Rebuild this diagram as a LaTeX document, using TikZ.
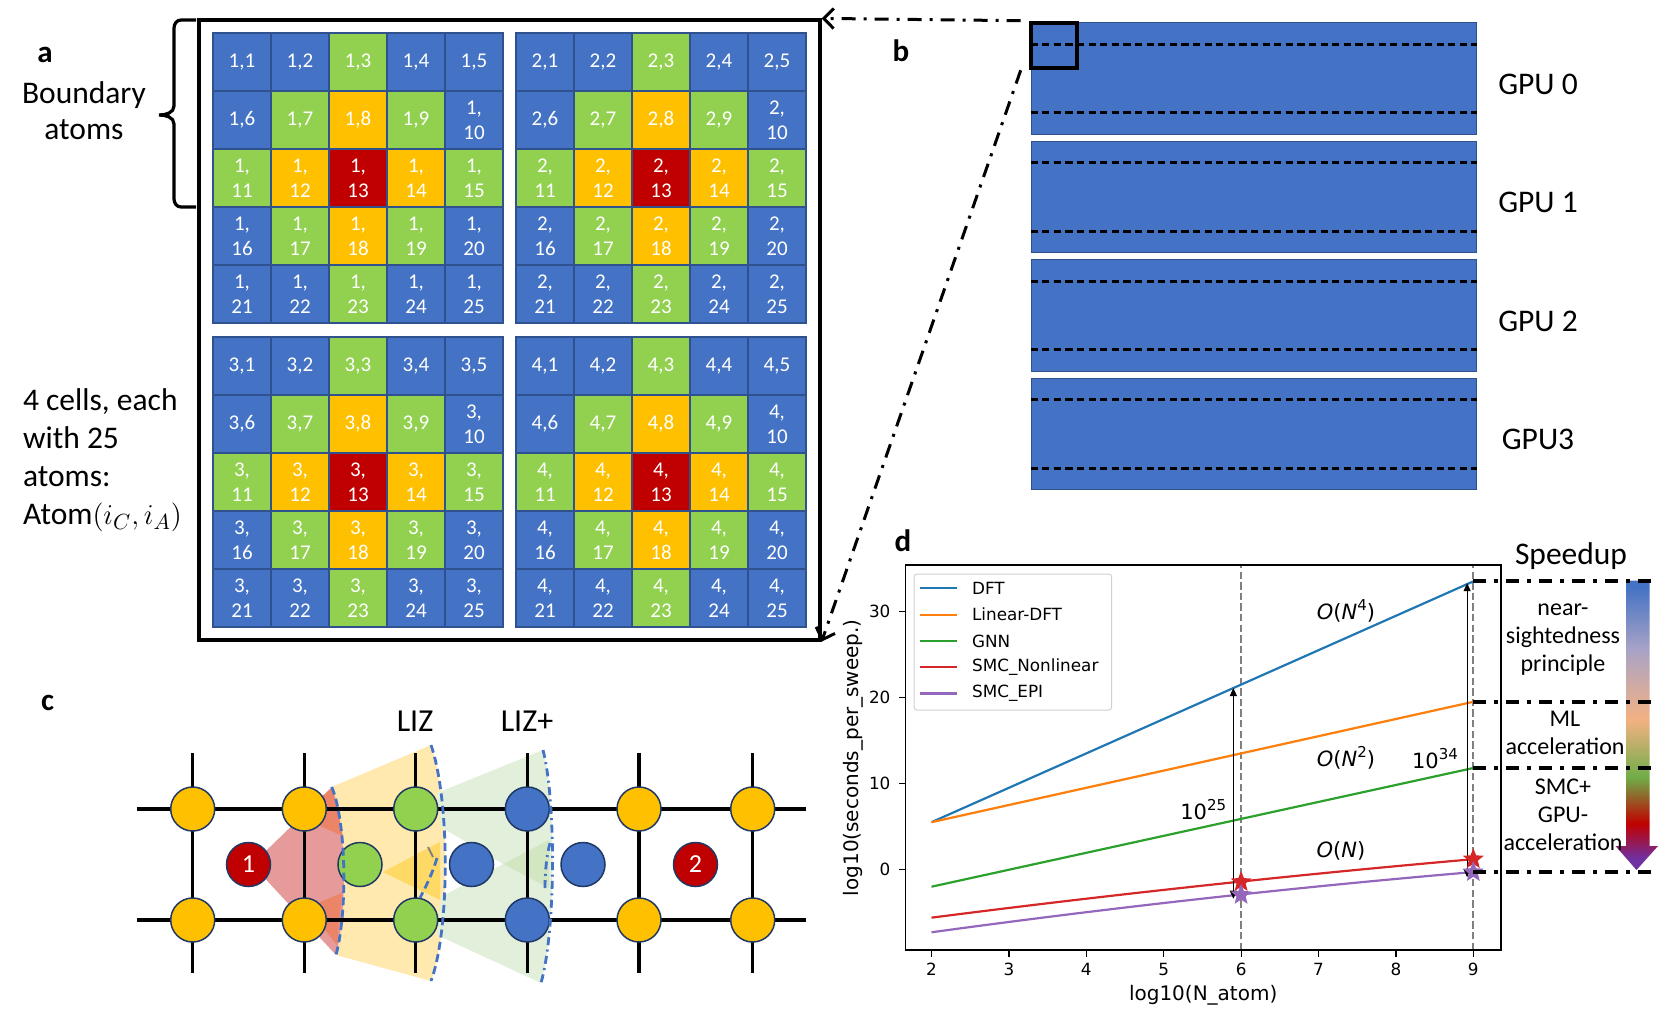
\documentclass[tikz,border=0pt]{standalone}
\usepackage{fontspec}
\setmainfont{Carlito}
\newfontfamily\pf{DejaVu Sans}
\usetikzlibrary{arrows.meta,shapes.geometric}
\definecolor{cellB}{HTML}{4472C4}
\definecolor{cellG}{HTML}{92D050}
\definecolor{cellO}{HTML}{FFC000}
\definecolor{cellR}{HTML}{C00000}
\definecolor{cellline}{HTML}{2F528F}
\definecolor{circline}{HTML}{1F3864}
\definecolor{mblue}{HTML}{1F77B4}
\definecolor{morange}{HTML}{FF7F0E}
\definecolor{mgreen}{HTML}{2CA02C}
\definecolor{mred}{HTML}{D62728}
\definecolor{mpurple}{HTML}{9467BD}
\definecolor{spPurple}{HTML}{7030A0}
\definecolor{spRed}{HTML}{C00000}
\definecolor{spGreen}{HTML}{70AD47}
\definecolor{spPeach}{HTML}{F4B183}
\definecolor{spMauve}{HTML}{A9A3C6}
\definecolor{spBlue}{HTML}{4472C4}
\definecolor{zRed}{HTML}{E69A9A}
\definecolor{zRedDark}{HTML}{EC8468}
\definecolor{zYel}{HTML}{FFE9AE}
\definecolor{zYelDark}{HTML}{FFD966}
\definecolor{zGrn}{HTML}{E2EFDA}
\definecolor{zGrnDark}{HTML}{D2E6C2}
\definecolor{legline}{HTML}{D0D0D0}
\pgfdeclareverticalshading{speedgrad}{100bp}{color(0bp)=(spPurple); color(27bp)=(spPurple); color(33bp)=(spRed); color(41bp)=(spGreen); color(51bp)=(spPeach); color(63bp)=(spMauve); color(74bp)=(spBlue); color(100bp)=(spBlue)}
\newcommand\mysup[1]{\raisebox{0.8ex}{\fontsize{7.5}{8}\selectfont #1}}
\tikzset{
  cellbox/.style={draw=cellline, line width=0.7pt, minimum width=29pt, minimum height=29pt, inner sep=0pt, text=white, align=center, font=\fontsize{10.5}{12.5}\selectfont},
  lbl/.style={font=\fontsize{15.75}{19}\selectfont},
  panel/.style={font=\bfseries\fontsize{15.5}{18}\selectfont},
  gpubox/.style={fill=cellB, draw=cellline, line width=0.5pt, minimum width=222.5pt, minimum height=55.75pt, inner sep=0pt},
  gpudash/.style={line width=1.3pt, dash pattern=on 3.6pt off 2.2pt},
  dashdotline/.style={line width=1.5pt, dash pattern=on 7pt off 4pt on 1.5pt off 4pt},
  sdash/.style={line width=2pt, dash pattern=on 6.5pt off 4pt on 2pt off 4pt},
  atom/.style={circle, draw=circline, line width=0.75pt, minimum size=22pt, inner sep=0pt},
  latt/.style={line width=1.6pt},
  arcd/.style={draw=cellB, line width=1.4pt, dash pattern=on 4pt off 2.2pt},
  arcdd/.style={draw=cellB, line width=1.4pt, dash pattern=on 4pt off 2.2pt on 1pt off 2.2pt},
  pl/.style={line width=1.1pt},
  vgrid/.style={draw=gray, line width=1.1pt, dash pattern=on 3.7pt off 1.6pt},
  tk/.style={line width=0.6pt},
  ticklbl/.style={font=\pf\fontsize{8.4}{10}\selectfont},
  annot/.style={font=\pf\fontsize{10.5}{12}\selectfont},
  annarr/.style={line width=0.5pt, {Triangle[length=4pt,width=3.5pt]}-{Triangle[length=4pt,width=3.5pt]}},
  smalllbl/.style={font=\fontsize{12}{14}\selectfont, align=center},
  mstar/.style={star, star points=5, star point ratio=2.3, minimum size=11pt, inner sep=0pt},
}
\begin{document}
\begin{tikzpicture}[x=0.5pt,y=-0.5pt]
\useasboundingbox (0,0) rectangle (1661,1011);

% ---------------- panel a ----------------
\foreach \c/\cx/\cy in {1/213/33,2/516/33,3/213/337,4/516/337}{
  \foreach \k [count=\n] in {B,B,G,B,B,B,G,O,G,B,G,O,R,O,G,B,G,O,G,B,B,B,G,B,B}{
    \pgfmathtruncatemacro{\cl}{mod(\n-1,5)}
    \pgfmathtruncatemacro{\rw}{(\n-1)/5}
    \ifnum\n<10
      \node[cellbox, fill=cell\k] (a\c-\n) at ({\cx+29+58*\cl},{\cy+29+58*\rw}) {\c,\n};
    \else
      \node[cellbox, fill=cell\k] (a\c-\n) at ({\cx+29+58*\cl},{\cy+29+58*\rw}) {\c,\\\n};
    \fi
  }
}
\node[draw, line width=1.6pt, minimum width=310.5pt, minimum height=310pt, inner sep=0pt] (frameA) at (509.5,330) {};
\draw[line width=1.6pt] (196,20) -- (181,20) to[out=180,in=90] (174,28) -- (174,106) to[out=-90,in=0] (159,115) to[out=0,in=90] (174,124) -- (174,199) to[out=-90,in=180] (181,207) -- (196,207);
\node[panel] (la) at (45,55) {a};
\node[lbl, align=center] (lbound) at (84,111) {Boundary\\[-1pt]atoms};
\node[lbl, align=left, anchor=west, font=\fontsize{15.75}{19}\selectfont] (lcells) at (16,460) {4 cells, each\\with 25\\atoms:\\Atom$(i_C,i_A)$};

% ---------------- panel b ----------------
\node[panel] (lb) at (901,51) {b};
\foreach \i/\t in {0/GPU 0,1/GPU 1,2/GPU 2,3/GPU3}{
  \node[gpubox] (gpu\i) at (1253.5,{78.5+118.5*\i}) {};
  \draw[gpudash] ([yshift=-11pt]gpu\i.north west) -- ([yshift=-11pt]gpu\i.north east);
  \draw[gpudash] ([yshift=11pt]gpu\i.south west) -- ([yshift=11pt]gpu\i.south east);
  \node[lbl] (gl\i) at (1538,{84+118.5*\i}) {\t};
}
\node[draw, line width=2pt, minimum width=23pt, minimum height=22.8pt, inner sep=0pt] (zsq) at (1053.7,45.5) {};
\draw[dashdotline, -{Straight Barb[length=5pt,width=10pt]}] ([xshift=-4pt]zsq.north west) -- (frameA.north east);
\draw[dashdotline, -{Straight Barb[length=5pt,width=10pt]}] ([xshift=-4pt]zsq.south west) -- (frameA.south east);

% ---------------- panel c ----------------
\node[panel] (lc) at (47.6,703) {c};
\fill[zYel] (331.7,787) -- (431,745) .. controls (450,800) and (450,930) .. (431,981) -- (336,955) .. controls (348,910) and (346,820) .. (331.7,787) -- cycle;
\fill[zYelDark] (383,872) -- (440,842) -- (440,900) -- cycle;
\fill[zGrn] (437,793) -- (543,750) .. controls (556,800) and (556,930) .. (541,983) -- (437,935) -- (441,897) -- (503,864) -- (441,827) -- cycle;
\fill[zGrnDark] (503,864) -- (549,840) -- (549,888) -- cycle;
\fill[zRed] (252,864.5) -- (331.7,787) .. controls (346,820) and (348,910) .. (336,955) -- cycle;
\fill[zRedDark] (322,797) -- (332,788) -- (343,836) -- (320,826) -- cycle;
\fill[zRedDark] (320,902) -- (342,893) -- (337,945) -- (325,930) -- cycle;
% lattice
\coordinate (hl1) at (137,809); \coordinate (hr1) at (806,809);
\coordinate (hl2) at (137,920); \coordinate (hr2) at (806,920);
\draw[latt] (hl1) -- (hr1);
\draw[latt] (hl2) -- (hr2);
\foreach \x [count=\j] in {192.7,304.3,415.7,527.3,639,752.7}{
  \coordinate (vt\j) at (\x,753); \coordinate (vb\j) at (\x,973);
  \draw[latt] (vt\j) -- (vb\j);
}
\foreach \x/\col [count=\j] in {192.7/cellO,304.3/cellO,415.7/cellG,527.3/cellB,639/cellO,752.7/cellO}{
  \node[atom, fill=\col] (ct\j) at (\x,809) {};
  \node[atom, fill=\col] (cb\j) at (\x,920) {};
}
\node[atom, fill=cellR, text=white, font=\fontsize{13}{14}\selectfont] (cm1) at (248.5,864.5) {1};
\node[atom, fill=cellG] (cm2) at (360,864.5) {};
\node[atom, fill=cellB] (cm3) at (471.5,864.5) {};
\node[atom, fill=cellB] (cm4) at (583,864.5) {};
\node[atom, fill=cellR, text=white, font=\fontsize{13}{14}\selectfont] (cm5) at (695.5,864.5) {2};
\draw[arcd] (331.7,787) .. controls (346,820) and (348,910) .. (336,955);
\draw[arcd] (431,745) .. controls (450,800) and (450,930) .. (431,981);
\draw[arcd] (437,858) .. controls (432,875) and (425,888) .. (420,898);
\draw[gray, line width=1pt] (428,847) -- (433,857);
\draw[arcdd] (543,750) .. controls (556,800) and (556,930) .. (541,983);
\draw[arcdd] (550,843) .. controls (546,858) and (545,874) .. (545,890);
\node[lbl, font=\fontsize{16}{19}\selectfont] (liz) at (415,721) {LIZ};
\node[lbl, font=\fontsize{16}{19}\selectfont] (lizp) at (527,721) {LIZ+};

% ---------------- panel d ----------------
\node[panel] (ld) at (903,541) {d};
\begin{scope}[shift={(776.7,869.5)},x=38.7pt,y=4.3pt]
  \draw[vgrid] (6,-9.35) -- (6,35.45);
  \draw[vgrid] (9,-9.35) -- (9,35.45);
  \draw[pl,mblue] (2,5.5) -- (9,33.5);
  \draw[pl,morange] (2,5.5) -- (9,19.5);
  \draw[pl,mgreen] (2,-2.0) -- (9,11.8);
  \draw[pl,mred] plot[domain=2:9,samples=30,smooth] (\x,{-8.014+1.2595*\x-0.0262*\x*\x});
  \draw[pl,mpurple] plot[domain=2:9,samples=30,smooth] (\x,{-9.9+1.3667*\x-0.0333*\x*\x});
  \draw[line width=0.9pt] (1.665,-9.35) rectangle (9.36,35.45);
  \foreach \t in {0,10,20,30}{
    \draw[tk] (1.665,\t) -- (1.575,\t);
    \node[ticklbl, anchor=east] (yt\t) at (1.56,\t) {\t};
  }
  \foreach \t in {2,...,9}{
    \draw[tk] (\t,-9.35) -- (\t,-10.16);
    \node[ticklbl, anchor=north] (xt\t) at (\t,-10.1) {\t};
  }
  \node[font=\pf\fontsize{10}{12}\selectfont] (xlab) at (5.51,-14.6) {log10(N\_atom)};
  \node[font=\pf\fontsize{10}{12}\selectfont, rotate=90] (ylab) at (0.99,13.0) {log10(seconds\_per\_sweep.)};
  \coordinate (a1b) at (5.9,-3.4); \coordinate (a1t) at (5.9,21.1);
  \coordinate (a2b) at (8.92,-0.9); \coordinate (a2t) at (8.92,33.3);
  \draw[annarr] (a1b) -- (a1t);
  \draw[annarr] (a2b) -- (a2t);
  \node[mstar, fill=mred] (sr6) at (6,-1.45) {};
  \node[mstar, fill=mred] (sr9) at (9,1.2) {};
  \node[mstar, fill=mpurple] (sp6) at (6,-2.95) {};
  \node[mstar, fill=mpurple] (sp9) at (9,-0.3) {};
  \node[annot] (on4) at (7.355,30.06) {\textit{O}(\textit{N}\mysup{4})};
  \node[annot] (on2) at (7.355,13.0) {\textit{O}(\textit{N}\mysup{2})};
  \node[annot] (on1) at (7.29,2.14) {\textit{O}(\textit{N})};
  \node[annot] (t25) at (5.51,6.94) {10\mysup{25}};
  \node[annot] (t34) at (8.505,12.93) {10\mysup{34}};
  \coordinate (eD) at (9,33.5);
  \coordinate (eO) at (9,19.5);
  \coordinate (eG) at (9,11.8);
  \coordinate (eP) at (9,-0.3);
\end{scope}
% legend
\node[draw=legline, rounded corners=1.5pt, line width=0.5pt, minimum width=98.85pt, minimum height=68pt, fill=white, inner sep=0pt] (leg) at (1012.85,642) {};
\foreach \nm/\col [count=\j from 0] in {DFT/mblue,Linear-DFT/morange,GNN/mgreen,SMC\_Nonlinear/mred,SMC\_EPI/mpurple}{
  \coordinate (lg\j a) at (920,{588.3+26.3*\j});
  \coordinate (lg\j b) at (957,{588.3+26.3*\j});
  \draw[pl,\col] (lg\j a) -- (lg\j b);
  \node[ticklbl, anchor=west, inner sep=0pt] (lt\j) at (971.7,{588.3+26.3*\j}) {\nm};
}
% speedup
\shade[shading=speedgrad] (1626,580.5) -- (1649.5,580.5) -- (1649.5,846) -- (1658,846) -- (1636.5,870) -- (1615.5,846) -- (1626,846) -- cycle;
\coordinate (sR) at (1652,580);
\draw[sdash] (eD) -- (eD -| sR);
\draw[sdash] (eO) -- (eO -| sR);
\draw[sdash] (eG) -- (eG -| sR);
\draw[sdash] (eP) -- (eP -| sR);
\node[lbl] (spd) at (1571,556) {Speedup};
\node[smalllbl] (s1) at (1563,640) {near-\\sightedness\\principle};
\node[smalllbl] (s2) at (1565,733) {ML\\acceleration};
\node[smalllbl] (s3) at (1563,815) {SMC+\\GPU-\\acceleration};
\end{tikzpicture}
\end{document}
